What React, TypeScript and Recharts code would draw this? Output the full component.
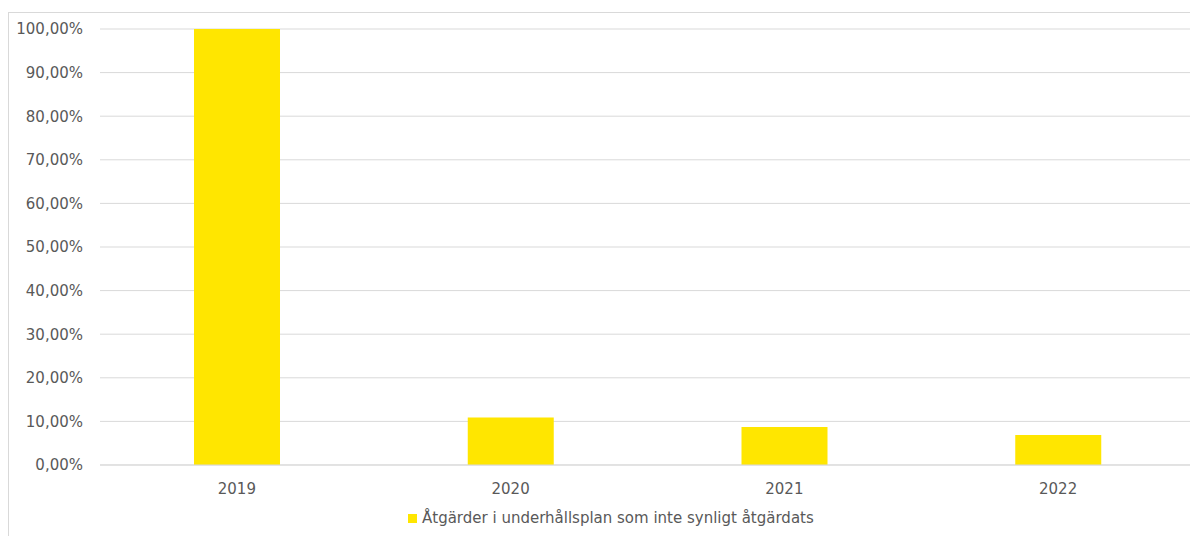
import React from "react";
import { BarChart, Bar, XAxis, YAxis, CartesianGrid, Legend } from "recharts";

const categories = ["2019", "2020", "2021", "2022"];
const values = [1.0, 0.109, 0.087, 0.069];
const yTicks = [0, 0.1, 0.2, 0.3, 0.4, 0.5, 0.6, 0.7, 0.8, 0.9, 1.0];
const seriesName = "Åtgärder i underhållsplan som inte synligt åtgärdats";

const data = categories.map((c, i) => ({ year: c, value: values[i] }));

const FONT = "'DejaVu Sans', sans-serif";
const TEXT = "#595959";
const YELLOW = "#FFE600";

const fmt = (v: number) =>
  (v * 100).toFixed(2).replace(".", ",") + "%";

const LegendContent = () => (
  <div
    style={{
      display: "flex",
      alignItems: "center",
      fontFamily: FONT,
      fontSize: 15,
      color: TEXT,
      whiteSpace: "nowrap",
    }}
  >
    <span
      style={{
        display: "inline-block",
        width: 9,
        height: 9,
        background: YELLOW,
        marginRight: 5,
      }}
    />
    <span>{seriesName}</span>
  </div>
);

export default function App() {
  return (
    <div style={{ paddingTop: 4 }}>
      <div
        style={{
          borderTop: "1px solid #d9d9d9",
          borderLeft: "1px solid #d9d9d9",
          width: 1189,
          height: 523,
          position: "relative",
          background: "#fff",
        }}
      >
        <BarChart
          width={1189}
          height={519}
          data={data}
          margin={{ top: 16, right: 3, left: 0, bottom: 0 }}
        >
          <CartesianGrid vertical={false} stroke="#d9d9d9" />
          <XAxis
            dataKey="year"
            axisLine={{ stroke: "#d9d9d9" }}
            tickLine={false}
            tickMargin={12}
            height={49}
            tick={{ fill: TEXT, fontSize: 15, fontFamily: FONT }}
          />
          <YAxis
            width={91}
            domain={[0, 1]}
            ticks={yTicks}
            tickFormatter={fmt}
            axisLine={false}
            tickLine={false}
            tickMargin={11}
            interval={0}
            tick={{ fill: TEXT, fontSize: 15, fontFamily: FONT }}
          />
          <Legend
            content={<LegendContent />}
            wrapperStyle={{ position: "absolute", left: 399, top: 496, width: 430, height: 18 }}
          />
          <Bar
            dataKey="value"
            name={seriesName}
            fill={YELLOW}
            barSize={86}
            isAnimationActive={false}
          />
        </BarChart>
      </div>
    </div>
  );
}
